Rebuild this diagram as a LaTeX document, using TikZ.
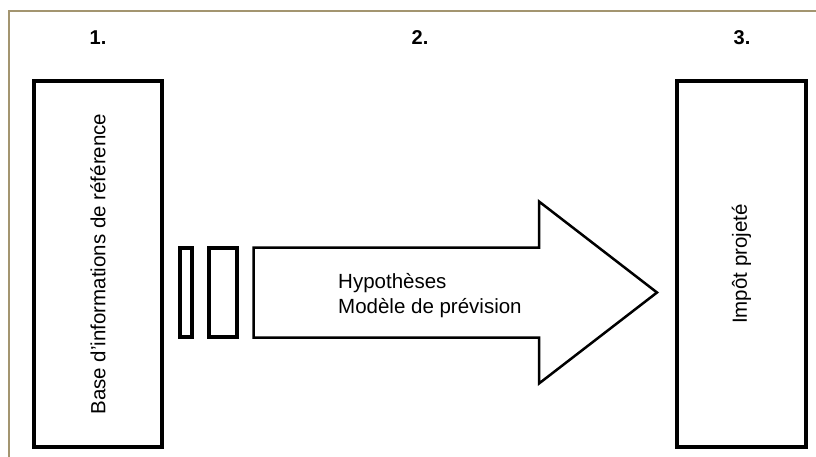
\documentclass[tikz,border=0pt]{standalone}
\usepackage{fontspec}
\setsansfont{Liberation Sans}
\usepackage{tikz}
\usetikzlibrary{positioning}
\definecolor{framecol}{HTML}{A39570}
\tikzset{
  basic/.style  = {font=\sffamily\fontsize{20.5}{25}\selectfont, inner sep=0pt},
  block/.style  = {basic, draw, rectangle, line width=4.5pt},
  slot/.style   = {draw, rectangle, line width=3.5pt, minimum height=89pt, inner sep=0pt},
  head/.style   = {basic, font=\sffamily\bfseries\fontsize{20}{24}\selectfont, anchor=base}
}
\begin{document}
\begin{tikzpicture}[x=1pt,y=-1pt]
\useasboundingbox (0,0) rectangle (816,457);

% frame, only top and left edges show
\draw[framecol, line width=1.3pt] (9,457) -- (9,11) -- (816,11);

% step numbers
\foreach \x/\n in {98/1,420/2,742/3}
  \node[head] (n\n) at (\x,45) {\n.};

\node[block, minimum width=128pt, minimum height=366pt] (c1) at (98,264)
  {\rotatebox{90}{Base d'informations de référence}};
\node[block, minimum width=129pt, minimum height=366pt] (c3) at (741.5,264)
  {\rotatebox{90}{Impôt projeté}};

\node[slot, minimum width=12pt] (c21) at (186,292.5) {};
\node[slot, minimum width=28pt] (c22) at (223,292.5) {};

% big arrow
\draw[line width=2.5pt, line join=miter]
  (253.5,247.5) -- (539,247.5) -- (539,201.5) -- (657,292.5)
  -- (539,383.5) -- (539,337.5) -- (253.5,337.5) -- cycle;
\node[basic, align=left, anchor=west] (c2) at (338,296)
  {Hypothèses\\Modèle de prévision};

\end{tikzpicture}
\end{document}
